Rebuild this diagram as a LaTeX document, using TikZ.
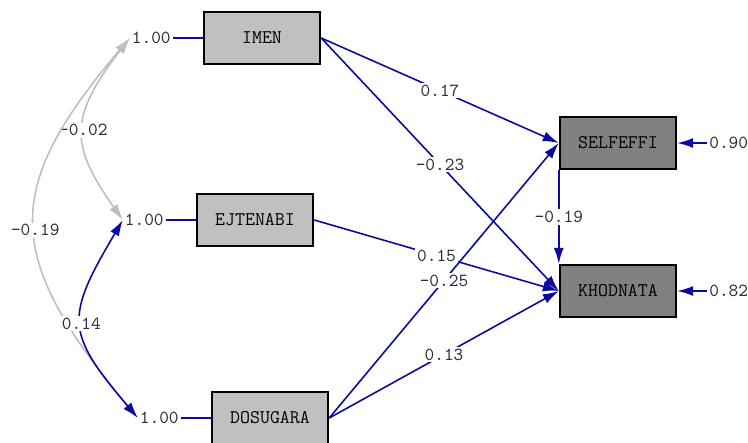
\documentclass[tikz,border=0pt]{standalone}
\usepackage{tikz}
\usetikzlibrary{arrows.meta, positioning}
\definecolor{pathblue}{RGB}{10,10,160}
\definecolor{covgray}{RGB}{190,190,190}
\definecolor{obsgray}{RGB}{192,192,192}
\definecolor{endgray}{RGB}{128,128,128}
\definecolor{numcol}{RGB}{45,45,60}

\begin{document}
\begin{tikzpicture}[x=0.02cm, y=-0.02cm,
    var/.style={draw, line width=1.4pt, minimum width=2.32cm, minimum height=1.04cm, inner sep=0pt, font=\ttfamily\fontsize{11}{12}\selectfont},
    coef/.style={fill=white, inner sep=1pt, text=numcol, font=\ttfamily\fontsize{10.5}{12}\selectfont},
    eff/.style={pathblue, line width=0.9pt, -{Latex[length=0.32cm,width=0.2cm]}},
    cov/.style={line width=0.9pt, {Latex[length=0.32cm,width=0.2cm]}-{Latex[length=0.32cm,width=0.2cm]}}]
    \useasboundingbox (0,0) rectangle (748,443);

    \node[var, fill=obsgray] (imen) at (262,38) {IMEN};
    \node[var, fill=obsgray] (ejtenabi) at (255,220) {EJTENABI};
    \node[var, fill=obsgray] (dosugara) at (270,418) {DOSUGARA};
    \node[var, fill=endgray] (selfeffi) at (618,143) {SELFEFFI};
    \node[var, fill=endgray] (khodnata) at (618,291) {KHODNATA};

    \node[coef, left=0.6cm of imen] (v1) {1.00};
    \node[coef, left=0.6cm of ejtenabi] (v2) {1.00};
    \node[coef, left=0.6cm of dosugara] (v3) {1.00};
    \node[coef, right=0.6cm of selfeffi] (e1) {0.90};
    \node[coef, right=0.6cm of khodnata] (e2) {0.82};

    \draw[pathblue, line width=0.9pt] (v1) -- (imen);
    \draw[pathblue, line width=0.9pt] (v2) -- (ejtenabi);
    \draw[pathblue, line width=0.9pt] (v3) -- (dosugara);
    \draw[eff] (e1) -- (selfeffi.east);
    \draw[eff] (e2) -- (khodnata.east);

    \draw[cov, covgray] (v1.west) .. controls (69,117) and (69,144) .. (v2.west) node[coef, pos=0.5] {-0.02};
    \draw[cov, covgray] (v1.west) .. controls (2,189) and (2,255) .. (v3.west) node[coef, pos=0.52] {-0.19};
    \draw[cov, pathblue] (v2.west) .. controls (65,318) and (65,332) .. (v3.west) node[coef, pos=0.5] {0.14};

    \draw[eff] (imen.east) -- (selfeffi.west) node[coef, midway] {0.17};
    \draw[eff] (imen.east) -- (khodnata.west) node[coef, midway] {-0.23};
    \draw[eff] (ejtenabi.east) -- (khodnata.west) node[coef, midway] {0.15};
    \draw[eff] (dosugara.east) -- (selfeffi.west) node[coef, midway] {-0.25};
    \draw[eff] (dosugara.east) -- (khodnata.west) node[coef, midway] {0.13};
    \draw[eff] (selfeffi.south west) -- (khodnata.north west) node[coef, midway] {-0.19};
\end{tikzpicture}
\end{document}
